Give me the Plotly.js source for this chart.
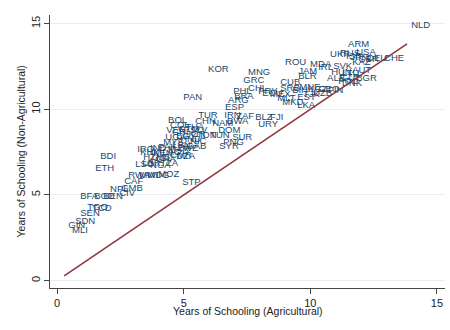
<!DOCTYPE html>
<html>
<head>
<meta charset="utf-8">
<script src="https://cdn.plot.ly/plotly-3.0.1.min.js"></script>
<style>
html,body{margin:0;padding:0;background:#fff;}
#chart{width:450px;height:330px;}
</style>
</head>
<body>
<div id="chart"></div>
<script>
const countries = ["NLD","ARM","UKR","RUS","ISR","USA","JPN","GBR","DEU","CHE","KAZ","ROU","MDA","IRL","SVK","JAM","BLR","HUN","LTU","AUT","ALB","CZE","BGR","POL","DNK","CUB","SRB","BIH","MNE","KGZ","GEO","FIN","EST","TJK","UZB","MLT","MKD","LKA",
"KOR","MNG","GRC","CHL","PRY","ECU","MEX","PAN","PHL","BRA","ARG","ESP","TUR","IRN","ZAF","BLZ","FJI","BWA","URY","CHN","NAM","DOM","IDN","TUN","SUR","PNG","SYR","STP",
"BOL","COL","VEN","CRI","GTM","THA","SLV","JOR","EGY","UGA","HND","NIC","MYS","LBN","IRQ","IND","PAK","MAR","ZWE","GAB","KHM","KEN","LAO","CMR","DZA","HTI","GHA","ZMB","TZA","LSO","LBR","NGA","BDI","ETH","RWA","MWI","MDG","MOZ","CAF","NPL","GMB","CIV","BFA","BGD","BEN","TGO","TCD","SEN","SDN","GIN","MLI"];
const schoolingAgri = [13.82,11.33,10.62,11.01,11.25,11.65,11.41,11.73,12.08,12.75,11.49,8.84,9.83,10.15,10.74,9.36,9.36,10.66,11.09,11.49,10.50,11.01,11.65,10.94,11.09,8.65,8.65,9.12,9.40,9.75,10.15,10.54,9.32,9.55,9.95,8.53,8.73,9.32,
5.80,7.38,7.19,7.38,7.78,7.94,8.25,4.82,6.79,6.83,6.59,6.47,5.41,6.44,6.91,7.66,8.25,6.55,7.78,5.29,5.96,6.20,5.49,5.88,6.75,6.40,6.24,4.78,
4.22,4.30,4.15,4.38,4.62,4.90,5.09,4.94,4.54,4.11,4.70,5.09,4.03,4.38,3.00,3.51,3.83,4.22,4.58,4.94,3.12,3.63,3.99,4.30,4.54,3.24,3.71,3.51,3.91,2.92,3.20,3.51,1.54,1.34,2.65,3.08,3.40,3.83,2.49,1.93,2.37,2.29,0.75,1.30,1.66,1.03,1.22,0.75,0.55,0.28,0.43];
const schoolingNonAgri = [14.86,13.75,13.17,13.23,13.05,13.28,12.99,12.88,12.93,12.93,12.70,12.70,12.58,12.41,12.47,12.18,11.88,12.12,12.06,12.23,11.77,11.83,11.77,11.59,11.48,11.53,11.18,11.07,11.24,11.13,11.13,11.07,10.66,10.83,10.89,10.60,10.37,10.19,
12.29,12.12,11.65,11.18,11.01,10.89,10.83,10.66,11.01,10.72,10.48,10.08,9.61,9.61,9.55,9.49,9.49,9.26,9.08,9.26,9.14,8.73,8.44,8.44,8.33,8.03,7.80,5.70,
9.32,9.03,8.73,8.62,8.79,8.91,8.73,8.50,8.38,8.33,8.21,8.09,8.03,7.86,7.63,7.68,7.74,7.63,7.68,7.80,7.45,7.39,7.45,7.28,7.22,7.16,7.04,7.16,6.81,6.75,6.81,6.69,7.22,6.52,6.11,6.11,6.11,6.17,5.76,5.29,5.35,5.06,4.88,4.88,4.88,4.24,4.18,3.89,3.42,3.19,2.90];
const tickVals = [0,5,10,15];
const tickText = ["0","5","10","15"];
const xTitle = "Years of Schooling (Agricultural)";
const yTitle = "Years of Schooling (Non-Agricultural)";

const lo = Math.min(...schoolingAgri), hi = Math.max(...schoolingAgri);
const font = "Liberation Sans, Arial, Helvetica, sans-serif";

const traces = [
  {
    type: "scatter", mode: "markers+text",
    x: schoolingAgri, y: schoolingNonAgri, text: countries,
    marker: {size: 5, opacity: 0},
    textposition: "middle right",
    textfont: {family: font, size: 9.5, color: "#1a476f"},
    hoverinfo: "text", showlegend: false, cliponaxis: false
  },
  {
    type: "scatter", mode: "lines",
    x: [lo, hi], y: [lo, hi],
    line: {color: "#90353b", width: 1.6},
    showlegend: false, hoverinfo: "skip"
  }
];

const layout = {
  width: 450, height: 330,
  margin: {l: 50, r: 5, t: 15, b: 42},
  paper_bgcolor: "#ffffff", plot_bgcolor: "#ffffff",
  showlegend: false,
  font: {family: font, color: "#222"},
  xaxis: {
    range: [-0.28, 15.32],
    tickvals: tickVals, ticktext: tickText,
    ticks: "outside", ticklen: 5, tickcolor: "#444", tickwidth: 1,
    showline: true, linecolor: "#444", linewidth: 1,
    showgrid: false, zeroline: false,
    tickfont: {size: 11, color: "#222"}
  },
  yaxis: {
    range: [-0.43, 15.5],
    tickvals: tickVals, ticktext: tickText,
    tickangle: -90,
    ticks: "outside", ticklen: 5, tickcolor: "#444", tickwidth: 1,
    showline: true, linecolor: "#444", linewidth: 1,
    showgrid: true, gridcolor: "#e6eef0", gridwidth: 1,
    zeroline: false,
    tickfont: {size: 11, color: "#222"}
  },
  annotations: [
    {text: xTitle, xref: "paper", yref: "paper", x: 0.5, y: 0, xanchor: "center", yanchor: "middle",
     yshift: -23, showarrow: false, font: {size: 10.5, color: "#222"}},
    {text: yTitle, xref: "paper", yref: "paper", x: 0, y: 0.5, xanchor: "center", yanchor: "middle",
     xshift: -30, textangle: -90, showarrow: false, font: {size: 10.5, color: "#222"}}
  ]
};

Plotly.newPlot("chart", traces, layout, {displayModeBar: false, staticPlot: true});
</script>
</body>
</html>
